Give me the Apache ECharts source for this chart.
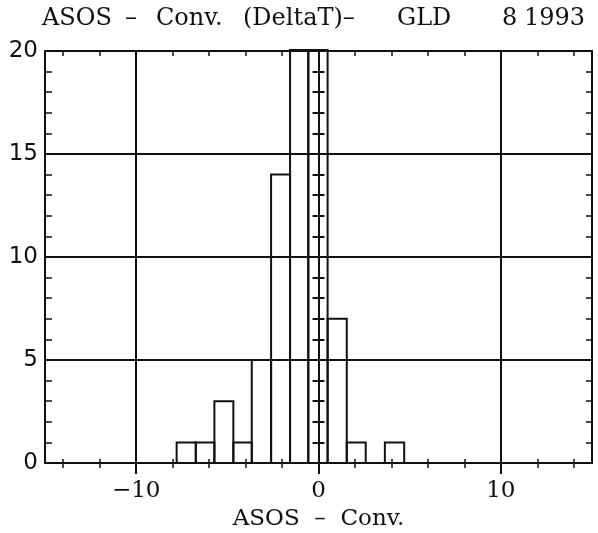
<!DOCTYPE html>
<html>
<head>
<meta charset="utf-8">
<script src="https://cdn.jsdelivr.net/npm/echarts@6/dist/echarts.min.js"></script>
<style>
  html, body { margin: 0; padding: 0; background: #fff; }
  #chart { width: 598px; height: 533px; }
</style>
</head>
<body>
<div id="chart"></div>
<script>
// histogram bins (left edge, right edge) and counts
var binLeft = [-7.78, -6.73, -5.71, -4.67, -3.66, -2.60, -1.56, -0.56, 0.50, 1.55, 2.59, 3.64]
var binRight = [-6.73, -5.71, -4.67, -3.66, -2.60, -1.56, -0.56, 0.50, 1.55, 2.59, 3.64, 4.70]
// the two middle bins run off the top of the frame
var counts = [1, 1, 3, 1, 5, 14, 26, 31, 7, 1, 0, 1]

var xMinorTicks = [-14, -12, -10, -8, -6, -4, -2, 0, 2, 4, 6, 8, 10, 12, 14]
var xTickLabels = [-10, 0, 10]
var xGridLines = [-10, 0, 10]
var yGridLines = [5, 10, 15]

// title words and where they start (the original uses a wide typewriter face)
var titleWords = ['ASOS', '\u2013', 'Conv.', '(DeltaT)\u2013', 'GLD', '8', '1993']
var titleLefts = [42, 125, 156, 243, 397, 502, 524]
var xName = 'ASOS  \u2013  Conv.'

var black = '#111'
var serif = 'DejaVu Serif'
var sans = 'DejaVu Sans'

var chart = echarts.init(document.getElementById('chart'))

var bins = counts.map(function (c, i) {
  return [binLeft[i], binRight[i], c]
})

var markLineData = []
xGridLines.forEach(function (v) { markLineData.push({ xAxis: v }) })
yGridLines.forEach(function (v) { markLineData.push({ yAxis: v }) })

var gridBox = { left: 45, right: 6, top: 51, bottom: 70, outerBoundsMode: 'none' }

var hiddenLine = { show: true, onZero: false, lineStyle: { opacity: 0 } }

var option = {
  animation: false,
  backgroundColor: '#fff',
  title: titleWords.map(function (w, i) {
    return {
      text: w, left: titleLefts[i], top: 7, padding: 0,
      textStyle: { fontFamily: serif, fontSize: 24, fontWeight: 'normal', color: black }
    }
  }),
  grid: [
    Object.assign({}, gridBox),
    Object.assign({}, gridBox),
    Object.assign({}, gridBox)
  ],
  xAxis: [
    {
      // bottom frame: ticks below, labels, name
      type: 'value', gridIndex: 0, position: 'bottom', min: -15, max: 15,
      axisLine: { onZero: false, lineStyle: { color: black, width: 2 } },
      axisTick: { customValues: xMinorTicks, inside: false, length: 5, lineStyle: { color: black, width: 1.5 } },
      axisLabel: {
        customValues: xTickLabels, margin: 17, color: black,
        fontFamily: serif, fontSize: 23,
        formatter: function (v) { return String(v).replace('-', '\u2212') }
      },
      splitLine: { show: false },
      name: xName, nameLocation: 'middle', nameGap: 43,
      nameTextStyle: { fontFamily: serif, fontSize: 23, color: black }
    },
    {
      // top frame
      type: 'value', gridIndex: 0, position: 'top', min: -15, max: 15,
      axisLine: { onZero: false, lineStyle: { color: black, width: 2 } },
      axisTick: { customValues: xMinorTicks, inside: true, length: 5, lineStyle: { color: black, width: 1.5 } },
      axisLabel: { show: false },
      splitLine: { show: false }
    },
    {
      // bottom ticks poking up into the plot
      type: 'value', gridIndex: 1, position: 'bottom', min: -15, max: 15,
      axisLine: hiddenLine,
      axisTick: { customValues: xMinorTicks, inside: true, length: 4, lineStyle: { color: black, width: 1.5 } },
      axisLabel: { show: false },
      splitLine: { show: false }
    },
    {
      // longer ticks under the grid lines
      type: 'value', gridIndex: 2, position: 'bottom', min: -15, max: 15,
      axisLine: hiddenLine,
      axisTick: { customValues: xGridLines, inside: false, length: 11, lineStyle: { color: black, width: 2 } },
      axisLabel: { show: false },
      splitLine: { show: false }
    }
  ],
  yAxis: [
    {
      type: 'value', gridIndex: 0, position: 'left', min: 0, max: 20, interval: 5,
      axisLine: { show: true, onZero: false, lineStyle: { color: black, width: 2 } },
      axisTick: { show: true, inside: true, length: 7, lineStyle: { color: black, width: 1.5 } },
      minorTick: { show: true, splitNumber: 5, length: 7, lineStyle: { color: black, width: 1.5 } },
      axisLabel: { margin: 7, color: black, fontFamily: sans, fontSize: 23 },
      splitLine: { show: false }
    },
    {
      type: 'value', gridIndex: 0, position: 'right', min: 0, max: 20, interval: 5,
      axisLine: { show: true, onZero: false, lineStyle: { color: black, width: 2 } },
      axisTick: { show: true, inside: true, length: 6, lineStyle: { color: black, width: 1.5 } },
      minorTick: { show: true, splitNumber: 5, length: 6, lineStyle: { color: black, width: 1.5 } },
      axisLabel: { show: false },
      splitLine: { show: false }
    },
    {
      // ticks on the zero line, right side
      type: 'value', gridIndex: 1, position: 'left', min: 0, max: 20, interval: 5,
      axisLine: { show: true, onZero: true, lineStyle: { opacity: 0 } },
      axisTick: { show: true, inside: true, length: 6, lineStyle: { color: black, width: 2 } },
      minorTick: { show: true, splitNumber: 5, length: 6, lineStyle: { color: black, width: 2 } },
      axisLabel: { show: false },
      splitLine: { show: false }
    },
    {
      // ticks on the zero line, left side
      type: 'value', gridIndex: 2, position: 'left', min: 0, max: 20, interval: 5,
      axisLine: { show: true, onZero: true, lineStyle: { opacity: 0 } },
      axisTick: { show: true, inside: false, length: 6, lineStyle: { color: black, width: 2 } },
      minorTick: { show: true, splitNumber: 5, length: 6, lineStyle: { color: black, width: 2 } },
      axisLabel: { show: false },
      splitLine: { show: false }
    }
  ],
  series: [
    {
      type: 'custom',
      xAxisIndex: 0,
      yAxisIndex: 0,
      data: bins,
      encode: { x: [0, 1], y: 2 },
      renderItem: function (params, api) {
        if (api.value(2) <= 0) return null
        var p0 = api.coord([api.value(0), api.value(2)])
        var p1 = api.coord([api.value(1), 0])
        var shape = echarts.graphic.clipRectByRect(
          { x: p0[0], y: p0[1], width: p1[0] - p0[0], height: p1[1] - p0[1] },
          { x: params.coordSys.x, y: params.coordSys.y - 1, width: params.coordSys.width, height: params.coordSys.height + 1 }
        )
        if (!shape) return null
        return {
          type: 'rect',
          shape: shape,
          style: { fill: 'rgba(255,255,255,0)', stroke: black, lineWidth: 2 }
        }
      },
      markLine: {
        silent: true,
        symbol: 'none',
        label: { show: false },
        lineStyle: { color: black, width: 2, type: 'solid' },
        data: markLineData
      }
    }
  ]
}

chart.setOption(option)
</script>
</body>
</html>
